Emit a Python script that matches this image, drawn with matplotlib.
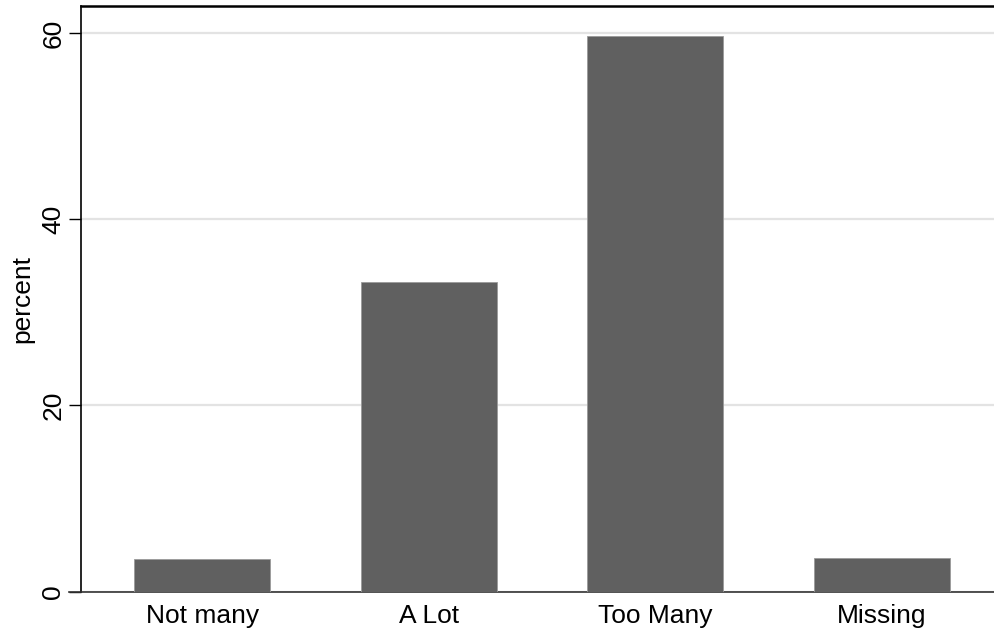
import matplotlib.pyplot as plt

categories = ["Not many", "A Lot", "Too Many", "Missing"]
percent = [3.5, 33.3, 59.7, 3.6]
y_ticks = [0, 20, 40, 60]

plt.rcParams["font.family"] = ["Liberation Sans", "DejaVu Sans"]

fig = plt.figure(figsize=(9.95, 6.37), dpi=100)
ax = fig.add_axes([0.0811, 0.0711, 0.9189, 0.9195])

x = list(range(len(categories)))
ax.bar(x, percent, width=0.602, color="#606060", edgecolor="#9a9a9a",
       linewidth=0.6, zorder=3)

ax.set_xlim(-0.537, 3.5)
ax.set_ylim(0, 62.9)
ax.set_xticks(x)
ax.set_xticklabels(categories, fontsize=19)
ax.set_yticks(y_ticks)
ax.set_yticklabels([str(t) for t in y_ticks], fontsize=19, rotation=90,
                   va="center")
ax.tick_params(axis="x", length=0, pad=9)
ax.tick_params(axis="y", length=9, width=1, pad=2)
ax.set_ylabel("percent", fontsize=19, labelpad=5)

ax.grid(axis="y", color="#e3e3e3", linewidth=1.6, zorder=0)
ax.set_axisbelow(True)

ax.spines["right"].set_visible(False)
ax.spines["top"].set_linewidth(1.8)
ax.spines["left"].set_linewidth(1.2)
ax.spines["bottom"].set_linewidth(1.2)
ax.spines["bottom"].set_color("#333333")
# x axis line runs a bit past the y axis, Stata style
ax.plot([-0.013, 0], [0, 0], transform=ax.transAxes, color="#333333",
        linewidth=1.2, clip_on=False)

fig.savefig("out.png", dpi=100)
